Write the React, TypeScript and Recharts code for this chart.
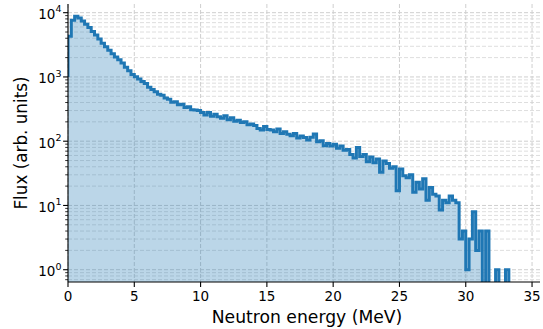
import { Area, CartesianGrid, ComposedChart, Line, XAxis, YAxis } from "recharts";

const FONT = "'DejaVu Sans', sans-serif";
const BLUE = "#1f77b4";

// 0.25 MeV bins. First value is where the trace starts at E = 0,
// every following value is one bin, placed at the bin's upper edge.
const BIN_WIDTH = 0.25;

// 0 - 5 MeV
const fluxLow = [
  1000, 4300, 7600, 8800, 8300, 7400, 6600, 5900, 5100, 4500, 3900, 3350, 2950,
  2600, 2300, 2050, 1850, 1650, 1420, 1250, 1090,
];
// 5 - 20 MeV
const fluxMid = [
  1010, 930, 850, 790, 690, 640, 590, 540, 520, 470, 450, 405, 410, 370, 375,
  335, 345, 310, 305, 300,
  280, 255, 280, 245, 262, 240, 228, 248, 215, 232, 205, 212, 196, 200, 180,
  186, 176, 158, 150, 170,
  152, 150, 140, 155, 132, 140, 128, 122, 132, 112, 120, 114, 104, 115, 130,
  98, 102, 85, 92, 84,
];
// 20 - 33.5 MeV (0 = empty bin)
const fluxHigh = [
  90, 78, 84, 72, 74, 62, 55, 80,
  58, 62, 48, 57, 46, 53, 33, 49,
  45, 38, 40, 17, 37, 29, 27, 30,
  16, 23, 18, 26, 12, 19, 15, 14,
  8.5, 12, 11, 14, 12, 11, 3, 4,
  1, 3, 8, 2, 4, 0, 4, 0,
  0, 1, 0, 0, 1, 0,
];

const xTicks = [0, 5, 10, 15, 20, 25, 30, 35];
const yMajor = [1, 10, 100, 1000, 10000];
const yMinor = [
  0.7, 0.8, 0.9, 2, 3, 4, 5, 6, 7, 8, 9, 20, 30, 40, 50, 60, 70, 80, 90, 200,
  300, 400, 500, 600, 700, 800, 900, 2000, 3000, 4000, 5000, 6000, 7000, 8000,
  9000,
];

// empty bins are clipped below the axis, like matplotlib does on a log axis
const CLIP_FLOOR = 0.01;
const flux = [...fluxLow, ...fluxMid, ...fluxHigh];
const rows = flux.map((v, i) => ({
  e: i * BIN_WIDTH,
  flux: v > 0 ? v : CLIP_FLOOR,
}));

function XTick({ x, y, payload }: any) {
  return (
    <g>
      <line x1={x} x2={x} y1={y} y2={y + 4.9} stroke="#000" strokeWidth={1.1} />
      <text x={x} y={y + 19} textAnchor="middle" fontSize={13.5} fontFamily={FONT} fill="#000">
        {payload.value}
      </text>
    </g>
  );
}

function YTick({ x, y, payload }: any) {
  const lg = Math.log10(payload.value);
  const exp = Math.round(lg);
  if (Math.abs(lg - exp) > 1e-9) {
    return <line x1={x - 2.8} x2={x} y1={y} y2={y} stroke="#000" strokeWidth={0.8} />;
  }
  return (
    <g>
      <line x1={x - 4.9} x2={x} y1={y} y2={y} stroke="#000" strokeWidth={1.1} />
      <text x={x - 6.5} y={y + 6.3} textAnchor="end" fontSize={13.5} fontFamily={FONT} fill="#000">
        10<tspan dy={-6.5} fontSize={9.5}>{exp}</tspan>
      </text>
    </g>
  );
}

export default function App() {
  return (
    <div style={{ position: "absolute", left: 0, top: 0, background: "#fff" }}>
      <ComposedChart
        width={543}
        height={329}
        data={rows}
        margin={{ top: 4, right: 3, bottom: 0, left: 0 }}
      >
        <CartesianGrid
          stroke="#dedede"
          strokeDasharray="4 2"
          vertical={false}
          horizontalValues={yMinor}
        />
        <CartesianGrid
          stroke="#cfcfcf"
          strokeDasharray="4 2"
          horizontalValues={yMajor}
          verticalValues={xTicks}
        />
        <XAxis
          dataKey="e"
          type="number"
          domain={[0, 35.6]}
          ticks={xTicks}
          interval={0}
          allowDataOverflow
          height={47}
          tickSize={0}
          tickMargin={0}
          tick={<XTick />}
          axisLine={{ stroke: "#000", strokeWidth: 1.1 }}
          label={{
            value: "Neutron energy (MeV)",
            position: "insideBottom",
            offset: 6,
            dx: 3,
            fill: "#000",
            fontSize: 17.2,
            fontFamily: FONT,
          }}
        />
        <YAxis
          scale="log"
          domain={[0.644, 13650]}
          allowDataOverflow
          ticks={[...yMinor, ...yMajor]}
          interval={0}
          width={68}
          tickSize={0}
          tickMargin={0}
          tick={<YTick />}
          axisLine={{ stroke: "#000", strokeWidth: 1.1 }}
          label={{
            value: "Flux (arb. units)",
            angle: -90,
            position: "insideLeft",
            offset: 21,
            fill: "#000",
            fontSize: 16.8,
            fontFamily: FONT,
            style: { textAnchor: "middle" },
          }}
        />
        <XAxis
          xAxisId="top"
          orientation="top"
          type="number"
          domain={[0, 35.6]}
          height={0}
          tick={false}
          tickLine={false}
          axisLine={{ stroke: "#000", strokeWidth: 1.1 }}
        />
        <YAxis
          yAxisId="right"
          orientation="right"
          width={0}
          tick={false}
          tickLine={false}
          axisLine={{ stroke: "#000", strokeWidth: 1.1 }}
        />
        <Area
          dataKey="flux"
          type="stepBefore"
          stroke="none"
          fill={BLUE}
          fillOpacity={0.3}
          isAnimationActive={false}
        />
        <Line
          dataKey="flux"
          type="stepBefore"
          stroke={BLUE}
          strokeWidth={3}
          dot={false}
          isAnimationActive={false}
        />
      </ComposedChart>
    </div>
  );
}
